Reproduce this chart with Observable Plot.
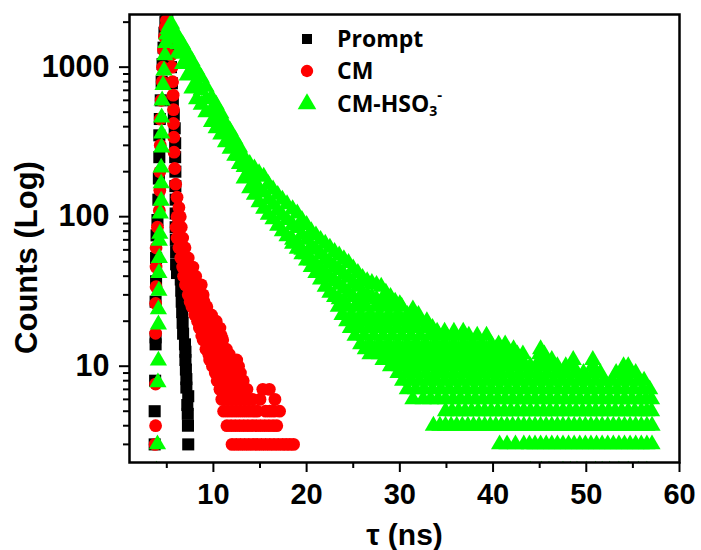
<!DOCTYPE html>
<html>
<head>
<meta charset="utf-8">
<script src="https://cdn.jsdelivr.net/npm/d3@7"></script>
<script src="https://cdn.jsdelivr.net/npm/@observablehq/plot@0.6"></script>
<style>
  html, body { margin: 0; padding: 0; background: #fff; }
  #wrap { position: relative; width: 701px; height: 550px; }
  #legend { position: absolute; left: 0; top: 0; pointer-events: none; }
</style>
</head>
<body>
<div id="wrap"></div>
<script>
// ---- axis ticks ----
const xMajor = [10, 20, 30, 40, 50, 60];
const xMinor = [5, 15, 25, 35, 45, 55];
const yMajor = [10, 100, 1000];
const yMinor = [3, 4, 5, 6, 7, 8, 9, 20, 30, 40, 50, 60, 70, 80, 90, 200, 300, 400, 500, 600, 700, 800, 900, 2000];
const seriesNames = ["Prompt", "CM", "CM-HSO3-"];

// ---- Prompt (instrument response), [time ns, counts] ----
const promptPts = [
  [3.7,3],[3.7,5],[3.75,8],[3.8,14],[3.8,15.6],[3.8,27],[3.85,37],[3.85,53],[3.9,75],[4.0,95],
  [4.1,130],[4.15,180],[4.2,250],[4.2,350],[4.25,450],[4.35,600],[4.45,800],[4.55,1050],[4.65,1350],
  [4.75,1700],[4.85,2000],[4.95,2150],[5.05,2100],[5.15,1850],[5.25,1550],[5.35,1250],[5.45,1000],
  [5.55,780],[5.65,600],[5.75,480],[5.85,390],[5.9,310],[5.9,250],[5.92,200],[5.92,160],[5.95,130],
  [5.95,105],[5.95,85],[5.97,70],[6.0,58],[6.0,48],[6.1,42],[6.5,38],[6.55,32],[6.6,27],[6.65,23],
  [6.7,19.5],[6.75,16.5],[6.95,14],[7.0,12.5],[7.0,11],[7.05,9.5],[7.1,8.2],[7.1,7.2],[7.3,6.3],
  [7.2,5.5],[7.25,4.8],[7.27,4],[7.3,3]
];

// ---- CM, rise and peak [time, counts] ----
const cmPts = [
  [3.75,3],[3.8,4],[3.8,7.6],[3.8,16.6],[3.8,26.3],[3.85,34],[3.85,46],[3.85,62],[4.0,85],[4.2,110],
  [4.25,150],[4.25,200],[4.3,300],[4.3,450],[4.4,600],[4.5,800],[4.55,1000],[4.65,1300],[4.75,1600],
  [4.85,1850],[4.95,2050],[5.05,2050],[5.15,1900],[5.25,1700],[5.35,1450],[5.45,1200],[5.55,1000],
  [5.62,800],[5.68,650],[5.72,520],[5.72,420],[5.75,340],[5.78,270],[5.85,210],[5.95,165],[6.1,135],[6.3,115]
];
// ---- CM, decay tail: [counts, times] ----
const cmRows = [
  [100,[6.1,6.45]],
  [85,[6.0,6.3,6.55]],
  [72,[6.1,6.4,6.7]],
  [62,[6.3,6.6,6.95]],
  [53,[6.5,6.9,7.3]],
  [46,[6.7,7.1,7.5,7.8]],
  [40,[6.8,7.2,7.6,8.1]],
  [35,[7.0,7.45,7.9,8.3,8.7]],
  [30,[7.3,7.7,8.1,8.5,8.9]],
  [27,[7.5,8.0,8.5,9.0]],
  [25,[7.7,8.1,8.5,8.9,9.3]],
  [22,[8.0,8.45,8.9,9.35,9.8]],
  [20,[8.3,8.7,9.1,9.5,9.9,10.3]],
  [18,[8.5,8.95,9.4,9.85,10.3,10.7]],
  [16,[8.75,9.2,9.65,10.1,10.5,10.85]],
  [15,[8.9,9.4,9.9,10.4,11.0]],
  [13,[9.2,9.65,10.1,10.55,11.0,11.4]],
  [12,[9.5,9.9,10.3,10.7,11.1,11.4,11.7]],
  [11,[9.6,10.05,10.5,10.95,11.4,11.8,12.1,12.5]],
  [10,[9.9,10.35,10.8,11.25,11.7,12.1,12.4,12.7]],
  [9,[10.2,10.65,11.1,11.55,12.0,12.45,12.9]],
  [8,[10.4,10.85,11.3,11.75,12.2,12.7,13.2]],
  [7,[10.7,11.15,11.6,12.05,12.5,13.0,13.6,15.3,16.0]],
  [6,[10.9,11.35,11.8,12.25,12.7,13.2,13.7,14.2,15.0,16.6]],
  [5,[11.1,11.55,12.0,12.45,12.9,13.35,13.8,14.25,14.7,15.6,16.05,16.5,17.1]],
  [4,[11.45,11.9,12.35,12.8,13.25,13.7,14.15,14.6,15.05,15.5,15.95,16.4,16.8]],
  [3,[12.0,12.45,12.9,13.35,13.8,14.25,14.7,15.15,15.6,16.05,16.5,16.95,17.4,17.8,18.2,18.6]]
];

// ---- CM-HSO3-, rise [time, counts] ----
const hso3Rise = [
  [3.9,2],[4.0,3],[4.05,7.8],[4.1,10.9],[4.1,19],[4.1,24],[4.15,32],[4.15,42],[4.2,53],[4.2,69],
  [4.25,77],[4.3,105],[4.4,128],[4.4,167],[4.4,213],[4.45,290],[4.45,360],[4.45,461],[4.5,599],
  [4.6,760],[4.7,950],[4.8,1200],[4.9,1450],[5.0,1650],[5.15,1800],[5.3,1900],[5.5,1950]
];
// ---- CM-HSO3-, decay: [time, counts at that time] ----
const hso3Cols = [
  [5.8,[1750,1550]],[6.2,[1600,1420,1250]],[6.7,[1420,1230,1050]],[7.2,[1250,1050,880]],
  [7.7,[1100,900,720]],[8.2,[960,780,610]],[8.7,[850,700,560]],[9.2,[740,610,500]],
  [9.8,[630,520,430]],[10.3,[560,470,390]],[10.8,[490,420,355]],[11.3,[420,365,315]],
  [11.8,[375,325,285]],[12.3,[330,290,255]],[12.8,[290,255,225]],[13.3,[250,215,180]],
  [13.9,[225,190,155]],[14.4,[210,170,140]],[14.9,[195,155,125]],[15.4,[185,145,113]],
  [15.9,[165,130,103]],[16.4,[152,120,96]],[16.9,[140,110,87]],[17.4,[130,102,80]],
  [17.9,[121,95,74]],[18.5,[112,88,70,66]],[19.0,[105,84,67,61]],[19.5,[95,76,60,56]],
  [20.0,[88,70,56,51]],[20.5,[80,64,51,46]],[21.0,[75,60,48,42]],[21.5,[70,56,45,38]],
  [22.0,[66,52,42,34]],[22.5,[62,49,39,31]],[23.0,[58,46,37,29]],[23.5,[55,44,35,28]],
  [24.0,[52,41,33,27]],[24.5,[49,39,31]],[25.0,[45,36,29]],[25.5,[42,34,27]],[26.0,[39,31,26]],
  [26.5,[37,30]],[27.0,[36,29]],[27.5,[35,28]],[28.0,[34,27]],[28.5,[31,26]],[29.0,[29]],
  [29.5,[27]],[30.0,[26]]
];
// ---- CM-HSO3-, tail: [counts, times] ----
const hso3Rows = [
  [25,[23.4,24.4,25.4,26.4,27.4,28.4,29.4,30.2]],
  [24,[31.4]],
  [22,[23.8,24.8,25.8,26.8,27.8,28.8,29.8,30.8,31.5,32.0]],
  [20,[24.3,25.3,26.3,27.3,28.3,29.3,30.3,31.3,32.2,32.9]],
  [18,[24.7,25.7,26.7,27.7,28.7,29.7,30.7,31.7,32.7,33.5]],
  [17,[34.0,34.8,35.8,36.8]],
  [16,[25.2,26.2,27.2,28.2,29.2,30.2,31.2,32.2,33.2,34.2,35.0,35.8,36.6,37.4,38.3,39.3]],
  [14,[25.8,26.8,27.8,28.8,29.8,30.8,31.8,32.8,33.8,34.8,35.8,36.8,37.8,38.8,39.8,40.6,41.3]],
  [13,[26.3,27.3,28.3,29.3,30.3,31.3,32.3,33.3,34.3,35.3,36.3,37.3,38.3,39.3,40.3,41.3,42.2,45.1]],
  [12,[26.8,27.8,28.8,29.8,30.8,31.8,32.8,33.8,34.8,35.8,36.8,37.8,38.8,39.8,40.8,41.8,42.6,43.2,45.0,45.5]],
  [11,[28.2,29.2,30.2,31.2,32.2,33.2,34.2,35.2,36.2,37.2,38.2,39.2,40.2,41.2,42.2,43.1,45.0,45.7,46.3,48.6,50.7]],
  [10,[29.0,30.0,31.0,32.0,33.0,34.0,35.0,36.0,37.0,38.0,39.0,40.0,41.0,42.0,43.0,44.0,45.0,46.0,46.9,47.8,48.6,50.7,54.0,54.5]],
  [9,[29.8,30.8,31.8,32.8,33.8,34.8,35.8,36.8,37.8,38.8,39.8,40.8,41.8,42.8,43.8,44.8,45.8,46.8,47.8,48.8,49.7,50.7,51.5,53.2,54.0,54.8,55.3]],
  [8,[30.3,31.2,32.1,33.0,33.9,34.8,35.7,36.6,37.5,38.4,39.3,40.2,41.1,42.0,42.9,43.8,44.7,45.6,46.5,47.4,48.3,49.2,50.1,51.0,51.9,52.8,53.7,54.6,55.5,56.2]],
  [7,[30.8,31.7,32.6,33.5,34.4,35.3,36.2,37.1,38.0,38.9,39.8,40.7,41.6,42.5,43.4,44.3,45.2,46.1,47.0,47.9,48.8,49.7,50.6,51.5,52.4,53.3,54.2,55.1,56.0,56.8]],
  [6,[31.4,32.5,33.3,34.1,34.9,35.7,36.5,37.3,38.1,38.9,39.7,40.5,41.3,42.1,42.9,43.7,44.5,45.3,46.1,46.9,47.7,48.5,49.3,50.1,50.9,51.7,52.5,53.3,54.1,54.9,55.7,56.4,57.0]],
  [5,[34.9,35.6,36.3,37.0,37.7,38.4,39.1,39.8,40.5,41.2,41.9,42.6,43.3,44.0,44.7,45.4,46.1,46.8,47.5,48.2,48.9,49.6,50.3,51.0,51.7,52.4,53.1,53.8,54.5,55.2,55.9,56.5,57.0]],
  [4,[33.6,34.3,34.9,35.5,36.1,36.7,37.3,37.9,38.5,39.1,39.7,40.3,40.9,41.5,42.1,42.7,43.3,43.9,44.5,45.1,45.7,46.3,46.9,47.5,48.1,48.7,49.3,49.9,50.5,51.1,51.7,52.3,52.9,53.5,54.1,54.7,55.3,55.9,56.5,57.05]],
  [3,[40.7,41.5,42.4,43.3,43.9,44.5,45.1,45.7,46.3,46.9,47.5,48.1,48.7,49.3,49.9,50.5,51.1,51.7,52.3,52.9,53.5,54.1,54.7,55.3,55.9,56.5,57.05]],
  [2,[44.0,45.2,46.0,47.5,48.3,49.0,50.0,51.0,51.7,52.5,53.5,54.5,55.6,56.5]]
];

// ---- assemble tables ----
const pairs = arr => arr.map(([x, y]) => ({x, y}));
const rows = arr => arr.flatMap(([y, xs]) => xs.map(x => ({x, y})));
const cols = arr => arr.flatMap(([x, ys]) => ys.map(y => ({x, y})));

const promptData = pairs(promptPts);
const cmData = pairs(cmPts).concat(rows(cmRows));
const hso3Data = pairs(hso3Rise).concat(cols(hso3Cols), rows(hso3Rows));

const font = "'Liberation Sans', Arial, sans-serif";

const chart = Plot.plot({
  width: 701,
  height: 550,
  marginLeft: 129,
  marginRight: 22,
  marginTop: 14,
  marginBottom: 88,
  x: {domain: [1, 60]},
  y: {type: "log", domain: [2.27, 2250]},
  style: {fontFamily: font, fontWeight: "bold", background: "white", color: "black"},
  marks: [
    Plot.dot(promptData, {x: "x", y: "y", symbol: "square", r: 6.8, fill: "black", clip: true}),
    Plot.dot(cmData, {x: "x", y: "y", symbol: "circle", r: 6.4, fill: "#ff0000", clip: true}),
    Plot.dot(hso3Data, {x: "x", y: "y", symbol: "triangle", r: 6.4, fill: "#00ff00", clip: true}),
    Plot.axisX({ticks: xMajor, tickSize: 10, tickPadding: 11, fontSize: 29, fontWeight: "bold", strokeWidth: 2, label: null, tickFormat: d => String(d)}),
    Plot.axisX({ticks: xMinor, tickSize: 6, strokeWidth: 2, text: null, label: null}),
    Plot.axisY({ticks: yMajor, tickSize: 10, tickPadding: 10, fontSize: 30.5, fontWeight: "bold", strokeWidth: 2, label: null, tickFormat: d => String(d)}),
    Plot.axisY({ticks: yMinor, tickSize: 6, strokeWidth: 2, text: null, label: null}),
    Plot.frame({stroke: "black", strokeWidth: 2.5}),
    Plot.text(["τ (ns)"], {frameAnchor: "bottom", dy: 73, fontSize: 30, fontWeight: "bold", lineAnchor: "middle", textAnchor: "middle"}),
    Plot.text(["Counts (Log)"], {frameAnchor: "left", rotate: -90, dx: -102, dy: 19, fontSize: 31, fontWeight: "bold", lineAnchor: "middle", textAnchor: "middle"})
  ]
});

const wrap = document.getElementById("wrap");
wrap.appendChild(chart);

// ---- legend overlay ----
const ns = "http://www.w3.org/2000/svg";
const leg = document.createElementNS(ns, "svg");
leg.setAttribute("id", "legend");
leg.setAttribute("width", 701);
leg.setAttribute("height", 550);
const symbols = [d3.symbolSquare, d3.symbolCircle, d3.symbolTriangle];
const colors = ["black", "#ff0000", "#00ff00"];
const sizes = [100, 120, 150];
const rowsY = [39, 71, 104];
seriesNames.forEach((name, i) => {
  const p = document.createElementNS(ns, "path");
  p.setAttribute("d", d3.symbol(symbols[i], sizes[i])());
  p.setAttribute("transform", `translate(307,${rowsY[i]})`);
  p.setAttribute("fill", colors[i]);
  leg.appendChild(p);
  const t = document.createElementNS(ns, "text");
  t.setAttribute("x", 337);
  t.setAttribute("y", rowsY[i] + 8);
  t.setAttribute("font-family", "'Open Sans', sans-serif");
  t.setAttribute("font-weight", "bold");
  t.setAttribute("font-size", 23);
  if (name === "CM-HSO3-") {
    t.innerHTML = 'CM-HSO<tspan font-size="14" dy="4">3</tspan><tspan font-size="15" dy="-16">-</tspan>';
  } else {
    t.textContent = name;
  }
  leg.appendChild(t);
});
wrap.appendChild(leg);
</script>
</body>
</html>
